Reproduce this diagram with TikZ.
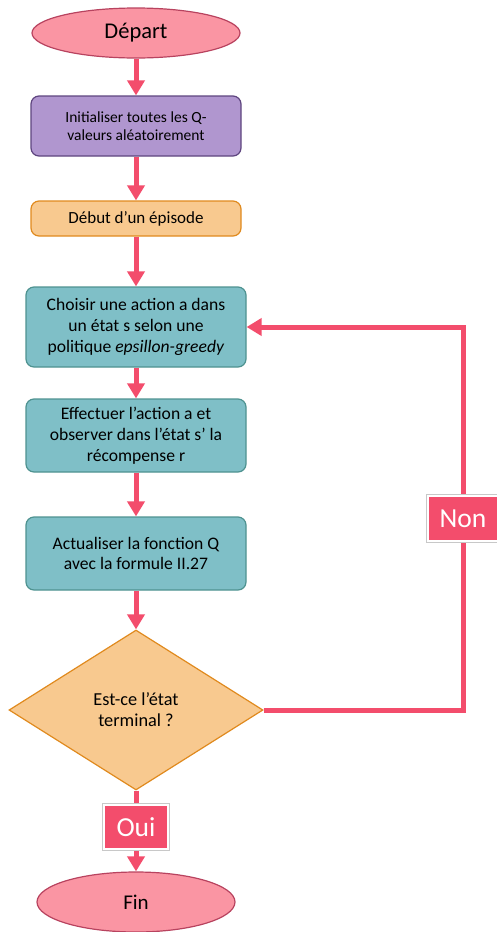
\documentclass[tikz,border=0pt]{standalone}
\usepackage{fontspec}
\setmainfont{Carlito}
\usetikzlibrary{shapes.geometric,arrows.meta}

\definecolor{flowred}{HTML}{F34D6C}
\definecolor{termfill}{HTML}{FA95A3}
\definecolor{termline}{HTML}{B8435F}
\definecolor{purfill}{HTML}{B096CF}
\definecolor{purline}{HTML}{5E457F}
\definecolor{orfill}{HTML}{F8C98F}
\definecolor{orline}{HTML}{E08A1E}
\definecolor{tealfill}{HTML}{7FBFC7}
\definecolor{tealline}{HTML}{4E9290}
\definecolor{labgray}{HTML}{C8C8C8}

\tikzset{
  terminal/.style={ellipse, fill=termfill, draw=termline, line width=1.2pt,
    inner sep=0pt},
  boxbase/.style={rectangle, rounded corners=8pt, line width=1.2pt,
    inner sep=0pt, align=center, minimum width=210pt},
  purbox/.style={boxbase, fill=purfill, draw=purline,
    font=\fontsize{15.5}{18.5}\selectfont},
  orbox/.style={boxbase, fill=orfill, draw=orline,
    font=\fontsize{17}{20}\selectfont},
  tealbox/.style={boxbase, fill=tealfill, draw=tealline, minimum width=220pt,
    font=\fontsize{17.6}{20.8}\selectfont},
  decision/.style={diamond, fill=orfill, draw=orline, line width=1.2pt,
    inner sep=0pt, aspect=1.5875, minimum width=254pt, minimum height=160pt,
    align=center, font=\fontsize{18.3}{20.8}\selectfont},
  flow/.style={draw=flowred, line width=5pt,
    -{Triangle[width=17pt,length=15pt]}},
  answer/.style={rectangle, fill=flowred, text=white, inner sep=0pt,
    draw=white, line width=2.5pt, preaction={draw=labgray, line width=3.6pt},
    font=\fontsize{27.5}{32}\selectfont}
}

\begin{document}
\begin{tikzpicture}[x=1pt,y=-1pt]
  \useasboundingbox (0,0) rectangle (496,932);

  % process nodes
  \node[terminal, minimum width=208pt, minimum height=50pt,
        font=\fontsize{22.5}{26}\selectfont] (start) at (136,33) {Départ};
  \node[purbox, minimum height=60pt] (init) at (136,126)
    {Initialiser toutes les Q-\\valeurs aléatoirement};
  \node[orbox, minimum height=35pt] (episode) at (136,218.5) {Début d’un épisode};
  \node[tealbox, minimum height=80pt] (choose) at (136,327)
    {Choisir une action a dans\\un état s selon une\\politique \textit{epsillon-greedy}};
  \node[tealbox, minimum height=73pt] (act) at (136,435.5)
    {Effectuer l’action a et\\observer dans l’état s’ la\\récompense r};
  \node[tealbox, minimum height=73pt] (update) at (136,553.5)
    {Actualiser la fonction Q\\avec la formule II.27};
  \node[decision] (test) at (136,710) {Est-ce l’état\\terminal ?};
  \node[terminal, minimum width=198pt, minimum height=60pt,
        font=\fontsize{21}{25}\selectfont] (stop) at (136,902) {Fin};

  % main sequence
  \draw[flow] (start) -- (init);
  \draw[flow] (init) -- (episode);
  \draw[flow] (episode) -- (choose);
  \draw[flow] (choose) -- (act);
  \draw[flow] (act) -- (update);
  \draw[flow] (update) -- (test);
  \draw[flow] (test) -- (stop);

  % loop back when the episode is not finished
  \coordinate (corner) at (463,327);
  \draw[flow] (test.east) -| (corner) -- (choose.east);

  % branch labels
  \node[answer, minimum width=64pt, minimum height=44pt] (yes) at (136,827) {Oui};
  \node[answer, minimum width=70pt, minimum height=45pt] (no) at (463,518.5) {Non};
\end{tikzpicture}
\end{document}
